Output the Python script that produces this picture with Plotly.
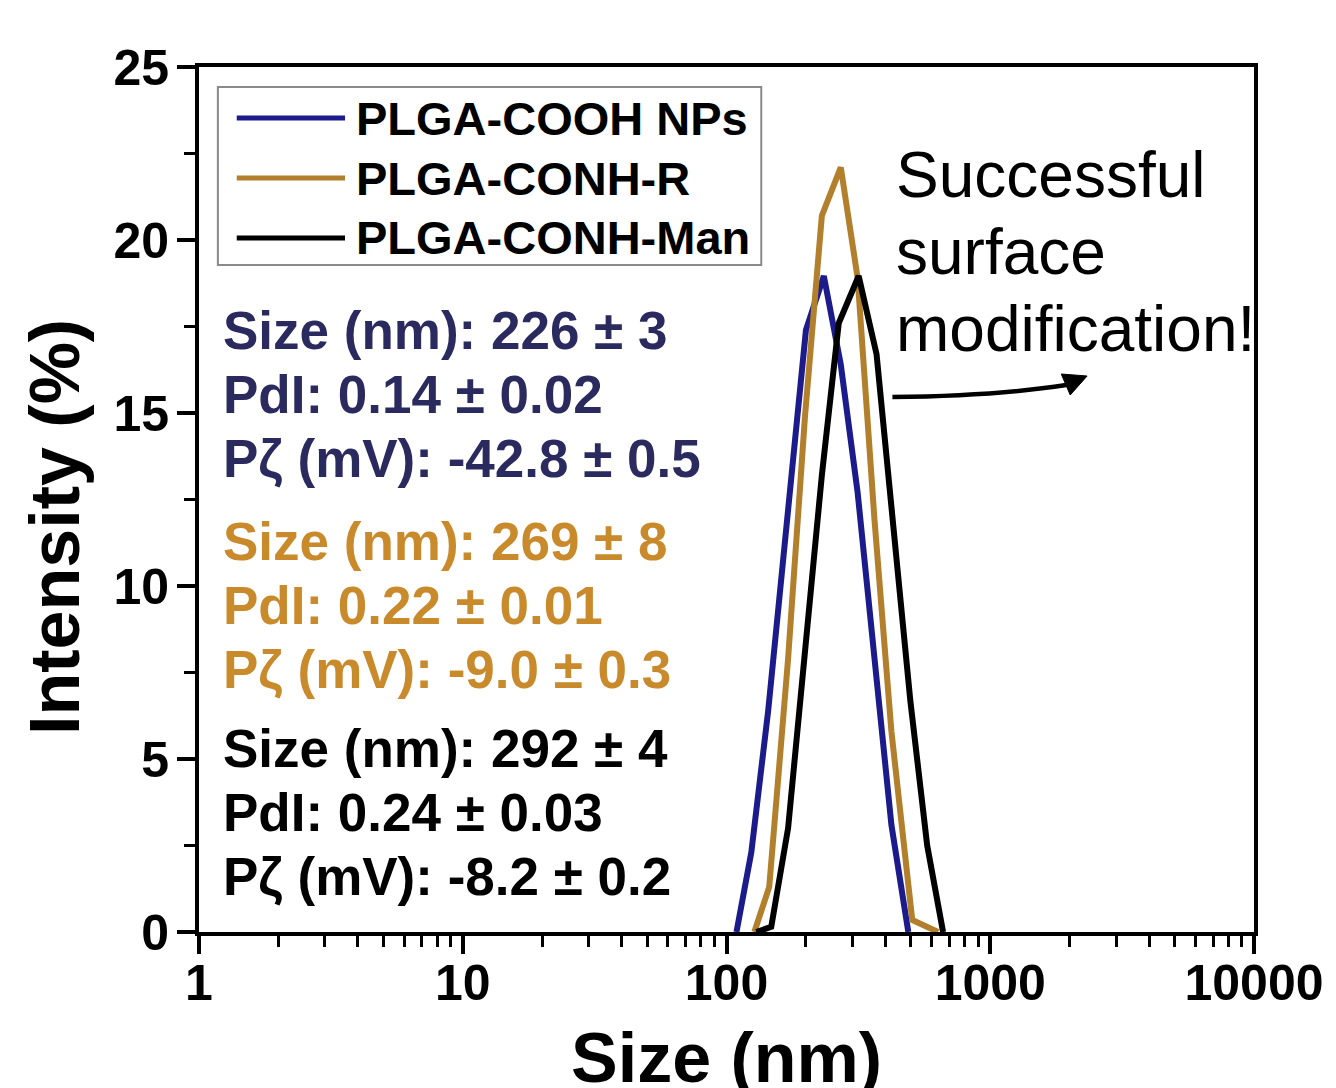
import plotly.graph_objects as go

# ---- data -------------------------------------------------------------
series_names = ["PLGA-COOH NPs", "PLGA-CONH-R", "PLGA-CONH-Man"]
series_colors = ["#1b1b8c", "#b27f2c", "#000000"]

cooh_size = [109.1, 124.2, 143.9, 166.8, 200.1, 233.9, 271.2, 314.2, 364.1, 421.9, 489.0]
cooh_int = [0.0, 2.3, 6.4, 11.3, 17.4, 18.96, 16.4, 12.7, 7.9, 3.1, 0.0]

conh_r_size = [127.5, 145.2, 171.2, 198.4, 229.9, 271.2, 314.2, 364.1, 421.9, 506.1, 634.3]
conh_r_int = [0.0, 1.3, 7.9, 14.9, 20.7, 22.1, 18.9, 11.9, 5.8, 0.35, 0.0]

man_size = [129.7, 147.8, 171.2, 198.4, 229.9, 266.5, 317.0, 370.6, 429.4, 497.5, 576.7, 662.5]
man_int = [0.0, 0.15, 3.0, 8.1, 13.2, 17.6, 18.96, 16.7, 11.6, 6.7, 2.5, 0.0]

x_tickvals = [1, 10, 100, 1000, 10000]
x_ticktext = ["1", "10", "100", "1000", "10000"]
y_tickvals = [0, 5, 10, 15, 20, 25]

summary_groups = [
    ["Size (nm): 226 ± 3", "PdI: 0.14 ± 0.02", "Pζ (mV): -42.8 ± 0.5"],
    ["Size (nm): 269 ± 8", "PdI: 0.22 ± 0.01", "Pζ (mV): -9.0 ± 0.3"],
    ["Size (nm): 292 ± 4", "PdI: 0.24 ± 0.03", "Pζ (mV): -8.2 ± 0.2"],
]
summary_colors = ["#2b2a5f", "#c98a2c", "#000000"]
callout_lines = ["Successful", "surface", "modification!"]

# ---- figure geometry (pixels) -----------------------------------------
W, H = 1336, 1088
L, R, T, B = 199, 1261, 67, 932


def px(xp):
    return (xp - L) / (R - L)


def py(yp):
    return (B - yp) / (B - T)


FONT = "Liberation Sans, Arial, sans-serif"

fig = go.Figure()
for name, color, xs, ys in zip(series_names, series_colors,
                               [cooh_size, conh_r_size, man_size],
                               [cooh_int, conh_r_int, man_int]):
    fig.add_trace(go.Scatter(x=xs, y=ys, mode="lines", name=name,
                             line=dict(color=color, width=6),
                             showlegend=False))

minor_x = [m * d for d in [1, 10, 100, 1000] for m in range(2, 10)]

fig.update_layout(
    width=W, height=H,
    margin=dict(l=L, r=W - R, t=T, b=H - B),
    paper_bgcolor="white", plot_bgcolor="white",
    xaxis=dict(
        type="log", range=[0, 4],
        tickmode="array", tickvals=x_tickvals, ticktext=x_ticktext,
        ticks="outside", ticklen=18, tickwidth=3.5, tickcolor="black",
        showline=True, linecolor="black", linewidth=4, mirror=True,
        showgrid=False, zeroline=False,
        tickfont=dict(family=FONT, size=50, color="black", weight="bold"),
        ticklabelstandoff=-14,
        minor=dict(tickmode="array", tickvals=minor_x, ticks="outside",
                   ticklen=11, tickwidth=3, tickcolor="black", showgrid=False),
    ),
    yaxis=dict(
        range=[0, 25],
        tickmode="array", tickvals=y_tickvals,
        ticks="outside", ticklen=18, tickwidth=3.5, tickcolor="black",
        showline=True, linecolor="black", linewidth=4, mirror=True,
        showgrid=False, zeroline=False,
        tickfont=dict(family=FONT, size=50, color="black", weight="bold"),
        ticklabelstandoff=-2,
        minor=dict(tickmode="array", tickvals=[2.5, 7.5, 12.5, 17.5, 22.5],
                   ticks="outside", ticklen=11, tickwidth=3, tickcolor="black",
                   showgrid=False),
    ),
)

annotations = []
shapes = []

# axis titles
annotations.append(dict(text="Size (nm)", xref="paper", yref="paper",
                        x=px(730), y=py(1058), xanchor="center", yanchor="middle",
                        showarrow=False,
                        font=dict(family=FONT, size=70, color="black", weight="bold")))
annotations.append(dict(text="Intensity (%)", xref="paper", yref="paper",
                        x=px(54), y=py(527), xanchor="center", yanchor="middle",
                        textangle=-90, showarrow=False,
                        font=dict(family=FONT, size=70, color="black", weight="bold")))

# legend box
shapes.append(dict(type="rect", xref="paper", yref="paper",
                   x0=px(218), x1=px(765), y0=py(265), y1=py(87),
                   line=dict(color="#8a8a8a", width=2), fillcolor="white", layer="below"))
for i, (name, color) in enumerate(zip(series_names, series_colors)):
    yc = 118 + 60 * i
    shapes.append(dict(type="line", xref="paper", yref="paper",
                       x0=px(237), x1=px(346), y0=py(yc), y1=py(yc),
                       line=dict(color=color, width=5)))
    annotations.append(dict(text=name, xref="paper", yref="paper",
                            x=px(355), y=py(yc), xanchor="left", yanchor="middle",
                            showarrow=False,
                            font=dict(family=FONT, size=47, color="black", weight="bold")))

# measurement summaries
group_tops = [330, 541, 748]
for top, lines, color in zip(group_tops, summary_groups, summary_colors):
    for j, line in enumerate(lines):
        annotations.append(dict(text=line, xref="paper", yref="paper",
                                x=px(221), y=py(top + 64 * j), xanchor="left",
                                yanchor="middle", showarrow=False,
                                font=dict(family=FONT, size=53, color=color, weight="bold")))

# callout text and curved arrow
for k, line in enumerate(callout_lines):
    annotations.append(dict(text=line, xref="paper", yref="paper",
                            x=px(899), y=py(175 + 77 * k), xanchor="left", yanchor="middle",
                            showarrow=False,
                            font=dict(family=FONT, size=64, color="black")))
shapes.append(dict(type="path", xref="paper", yref="paper",
                   path=f"M {px(897)},{py(397)} Q {px(1000)},{py(396)} {px(1072)},{py(385)}",
                   line=dict(color="black", width=4.5)))
shapes.append(dict(type="path", xref="paper", yref="paper",
                   path=(f"M {px(1093)},{py(376)} L {px(1067)},{py(374)} "
                         f"L {px(1076)},{py(395)} Z"),
                   fillcolor="black", line=dict(color="black", width=1)))

fig.update_layout(annotations=annotations, shapes=shapes)
fig.write_html("out.html")
